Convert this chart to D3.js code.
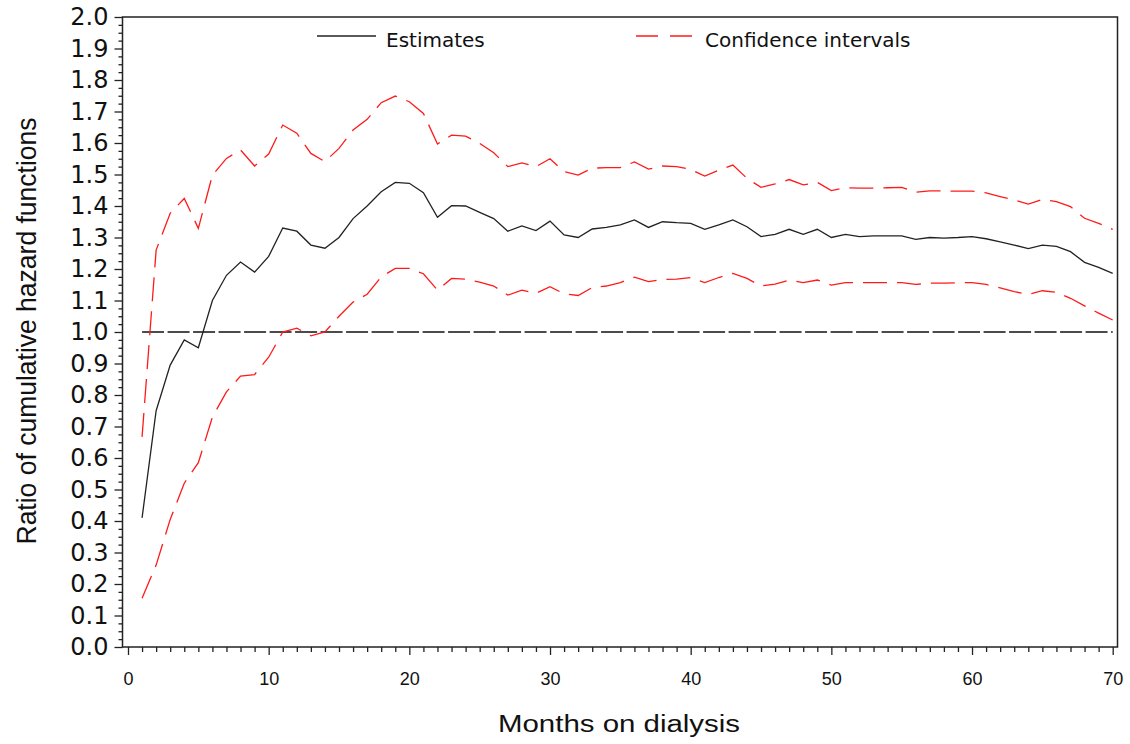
<!DOCTYPE html>
<html lang="en">
<head>
  <meta charset="UTF-8">
  <title>Ratio of cumulative hazard functions</title>
  <script src="https://d3js.org/d3.v7.min.js"></script>
  <style>
    body {
      margin: 0;
      background-color: #fff;
    }
    .ytick text {
      font-family: "DejaVu Sans", sans-serif;
      font-size: 24px;
      fill: #111;
    }
    .xtick text {
      font-family: "Liberation Sans", Arial, sans-serif;
      font-size: 18px;
      fill: #111;
    }
    .tick line {
      stroke: #222;
      stroke-width: 1.3px;
    }
    .legend text {
      font-family: "DejaVu Sans", sans-serif;
      font-size: 20px;
      fill: #111;
    }
    .title {
      font-family: "Liberation Sans", Arial, sans-serif;
      fill: #111;
    }
  </style>
</head>
<body>

<div id="chart"></div>

<script>
  // months 1..70 on dialysis
  const months = d3.range(1, 71);

  const estimates = [
    0.41, 0.75, 0.895, 0.975, 0.95, 1.10, 1.18, 1.222, 1.19, 1.24,
    1.33, 1.32, 1.276, 1.266, 1.30, 1.36, 1.40, 1.445, 1.475, 1.472,
    1.442, 1.364, 1.401, 1.40, 1.38, 1.36, 1.32, 1.337, 1.322, 1.352,
    1.308, 1.30, 1.327, 1.332, 1.34, 1.356, 1.332, 1.35, 1.347, 1.345,
    1.326, 1.34, 1.356, 1.334, 1.303, 1.31, 1.326, 1.31, 1.326, 1.30,
    1.31, 1.303, 1.305, 1.305, 1.305, 1.294, 1.30, 1.298, 1.30, 1.303,
    1.296, 1.286, 1.276, 1.265, 1.276, 1.272, 1.255, 1.221, 1.205, 1.186
  ];

  const upperCI = [
    0.667, 1.26, 1.377, 1.424, 1.329, 1.498, 1.551, 1.578, 1.527, 1.565,
    1.657, 1.631, 1.567, 1.541, 1.583, 1.641, 1.675, 1.728, 1.749, 1.731,
    1.694, 1.597, 1.625, 1.622, 1.599, 1.569, 1.525, 1.537, 1.525, 1.55,
    1.509, 1.498, 1.52, 1.522, 1.522, 1.54, 1.517, 1.527, 1.525, 1.516,
    1.495, 1.514, 1.53, 1.488, 1.459, 1.47, 1.484, 1.467, 1.475, 1.449,
    1.458, 1.457, 1.457, 1.458, 1.459, 1.444, 1.448, 1.448, 1.447, 1.447,
    1.442, 1.43, 1.419, 1.406, 1.421, 1.414, 1.398, 1.361, 1.345, 1.326
  ];

  const lowerCI = [
    0.155, 0.26, 0.405, 0.52, 0.585, 0.73, 0.81, 0.86, 0.865, 0.92,
    1.0, 1.012, 0.988, 1.0, 1.05, 1.095, 1.12, 1.175, 1.202, 1.202,
    1.185, 1.133, 1.17, 1.168, 1.158, 1.146, 1.117, 1.133, 1.123, 1.144,
    1.121, 1.116, 1.141, 1.146, 1.157, 1.174, 1.16, 1.167, 1.168, 1.173,
    1.157, 1.173, 1.186, 1.17, 1.146, 1.152, 1.165, 1.157, 1.165, 1.149,
    1.157, 1.157, 1.157, 1.157, 1.157, 1.151, 1.155, 1.155, 1.156, 1.157,
    1.151, 1.14, 1.128, 1.119, 1.131, 1.126, 1.107, 1.083, 1.06, 1.038
  ];

  const referenceLevel = 1.0;

  const xTicks = [0, 10, 20, 30, 40, 50, 60, 70];
  const yTicks = [0.0, 0.1, 0.2, 0.3, 0.4, 0.5, 0.6, 0.7, 0.8, 0.9, 1.0,
                  1.1, 1.2, 1.3, 1.4, 1.5, 1.6, 1.7, 1.8, 1.9, 2.0];

  const width = 1130;
  const height = 744;
  const frame = { left: 122.5, right: 1117.5, top: 17, bottom: 647 };

  const svg = d3.select("#chart")
    .append("svg")
    .attr("width", width)
    .attr("height", height);

  const x = d3.scaleLinear().domain([0, 70]).range([128, 1112.7]);
  const y = d3.scaleLinear().domain([0, 2]).range([frame.bottom, frame.top]);

  // minor ticks: every month on x, every 0.025 on y
  const xMinor = d3.range(0, 71).filter(d => d % 10 !== 0);
  const yMinor = d3.range(0, 81).map(i => i * 0.025).filter((d, i) => i % 4 !== 0);

  // y axis
  const yAxisG = svg.append("g")
    .attr("class", "ytick")
    .attr("transform", `translate(${frame.left},0)`);
  yAxisG.call(d3.axisLeft(y).tickValues(yTicks).tickSize(8).tickPadding(6)
    .tickFormat(d3.format(".1f")));
  yAxisG.append("g").call(d3.axisLeft(y).tickValues(yMinor).tickSize(4).tickFormat(""));
  yAxisG.selectAll(".domain").remove();

  // x axis
  const xAxisG = svg.append("g")
    .attr("class", "xtick")
    .attr("transform", `translate(0,${frame.bottom})`);
  xAxisG.call(d3.axisBottom(x).tickValues(xTicks).tickSize(8).tickPadding(17));
  xAxisG.append("g").call(d3.axisBottom(x).tickValues(xMinor).tickSize(5).tickFormat(""));
  xAxisG.selectAll(".domain").remove();

  // frame
  svg.append("rect")
    .attr("x", frame.left)
    .attr("y", frame.top)
    .attr("width", frame.right - frame.left)
    .attr("height", frame.bottom - frame.top)
    .attr("fill", "none")
    .attr("stroke", "#222")
    .attr("stroke-width", 1.5);

  // reference line at 1.0
  svg.append("line")
    .attr("x1", x(months[0]))
    .attr("x2", x(months[months.length - 1]))
    .attr("y1", y(referenceLevel))
    .attr("y2", y(referenceLevel))
    .attr("stroke", "#111")
    .attr("stroke-width", 1.3)
    .attr("stroke-dasharray", "22,3.5");

  const line = d3.line()
    .x((d, i) => x(months[i]))
    .y(d => y(d));

  [upperCI, lowerCI].forEach(series => {
    svg.append("path")
      .datum(series)
      .attr("d", line)
      .attr("fill", "none")
      .attr("stroke", "#ff1a1a")
      .attr("stroke-width", 1.3)
      .attr("stroke-dasharray", "24,10");
  });

  svg.append("path")
    .datum(estimates)
    .attr("d", line)
    .attr("fill", "none")
    .attr("stroke", "#222")
    .attr("stroke-width", 1.3);

  // legend
  const legend = svg.append("g").attr("class", "legend");
  legend.append("line")
    .attr("x1", 317).attr("x2", 376).attr("y1", 36).attr("y2", 36)
    .attr("stroke", "#222").attr("stroke-width", 1.3);
  legend.append("text").attr("x", 386).attr("y", 47).text("Estimates");
  legend.append("line")
    .attr("x1", 636).attr("x2", 694).attr("y1", 36).attr("y2", 36)
    .attr("stroke", "#ff1a1a").attr("stroke-width", 1.3)
    .attr("stroke-dasharray", "22,12");
  legend.append("text").attr("x", 705).attr("y", 47).text("Confidence intervals");

  // axis titles
  svg.append("text")
    .attr("class", "title")
    .attr("x", 619)
    .attr("y", 732)
    .attr("text-anchor", "middle")
    .attr("font-size", 23)
    .attr("textLength", 242)
    .attr("lengthAdjust", "spacingAndGlyphs")
    .text("Months on dialysis");

  svg.append("text")
    .attr("class", "title")
    .attr("transform", "translate(36,331) rotate(-90)")
    .attr("text-anchor", "middle")
    .attr("font-size", 27)
    .attr("textLength", 427)
    .attr("lengthAdjust", "spacingAndGlyphs")
    .text("Ratio of cumulative hazard functions");
</script>

</body>
</html>
